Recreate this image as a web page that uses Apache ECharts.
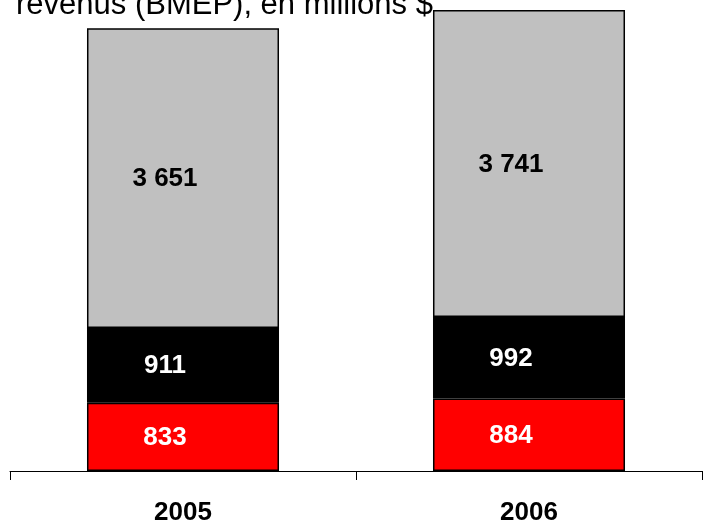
<!DOCTYPE html>
<html>
<head>
<meta charset="utf-8">
<script src="https://cdn.jsdelivr.net/npm/echarts@6/dist/echarts.min.js"></script>
<style>html,body{margin:0;padding:0;background:#fff;}#c{width:703px;height:526px;}</style>
</head>
<body>
<div id="c"></div>
<script>
const categories = ['2005', '2006'];
const redValues = [833, 884];
const blackValues = [911, 992];
const grayValues = [3651, 3741];
const titleText = 'revenus (BMEP), en millions $';

function fmt(v) {
  const s = String(v);
  return s.length > 3 ? s.slice(0, s.length - 3) + ' ' + s.slice(-3) : s;
}

const chart = echarts.init(document.getElementById('c'));
const labelBase = {
  show: true,
  position: 'inside',
  offset: [-18, 1],
  fontFamily: 'Arial, "Liberation Sans", sans-serif',
  fontWeight: 'bold',
  fontSize: 26,
  formatter: p => fmt(p.value)
};
function seg(name, data, color, textColor) {
  return {
    name: name,
    type: 'bar',
    stack: 'total',
    data: data,
    barWidth: '55.5%',
    itemStyle: { color: color, borderColor: '#000', borderWidth: 1.5 },
    label: Object.assign({}, labelBase, { color: textColor }),
    emphasis: { disabled: true }
  };
}
chart.setOption({
  animation: false,
  grid: { left: 10, right: 1, top: 0, bottom: 54, containLabel: false },
  xAxis: {
    type: 'category',
    data: categories,
    axisLine: { lineStyle: { color: '#000', width: 1 } },
    axisTick: { show: true, length: 9, lineStyle: { color: '#000' } },
    axisLabel: {
      margin: 29,
      color: '#000',
      fontFamily: 'Arial, "Liberation Sans", sans-serif',
      fontWeight: 'bold',
      fontSize: 26
    }
  },
  yAxis: { type: 'value', min: 0, max: 5740, show: false, splitLine: { show: false } },
  series: [
    seg('red', redValues, '#FF0000', '#fff'),
    seg('black', blackValues, '#000000', '#fff'),
    seg('gray', grayValues, '#C0C0C0', '#000')
  ],
  graphic: [{
    type: 'text',
    left: 16,
    top: -10,
    z: 100,
    style: {
      text: titleText,
      fontFamily: 'Arial, "Liberation Sans", sans-serif',
      fontSize: 31,
      fill: '#000'
    }
  }]
});
</script>
</body>
</html>
